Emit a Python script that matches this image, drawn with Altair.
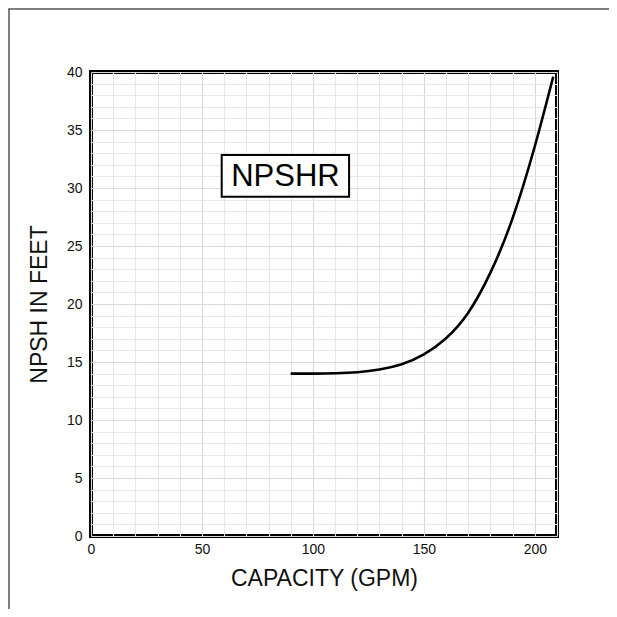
import altair as alt
import pandas as pd

# Curve data (capacity GPM, NPSH in feet)
capacity = [90, 100, 110, 120, 130, 140, 150, 160, 170, 180, 190, 200, 208.3]
npsh = [14.0, 14.0, 14.03, 14.12, 14.35, 14.8, 15.65, 17.05, 19.25, 22.7, 27.4, 33.6, 39.6]

x_grid = list(range(0, 211, 10))
y_grid = list(range(0, 41, 1))

label_text = ["NPSHR"]
label_x = [87.6]
label_y = [31.05]
box_x1, box_x2 = [58.9], [116.3]
box_y1, box_y2 = [32.84], [29.25]

df = pd.DataFrame({"capacity": capacity, "npsh": npsh})
lab = pd.DataFrame({"t": label_text, "capacity": label_x, "npsh": label_y,
                    "x1": box_x1, "x2": box_x2, "y1": box_y1, "y2": box_y2})

FONT = "Liberation Sans"

xscale = alt.Scale(domain=[0, 210], nice=False, zero=False)
yscale = alt.Scale(domain=[0, 40], nice=False, zero=False)

xaxis = alt.Axis(
    values=x_grid, title="CAPACITY (GPM)",
    labelExpr="datum.value % 50 === 0 ? datum.label : ''",
    labelOverlap=False, labelFlush=False, ticks=False, domain=False,
    grid=True,
    gridColor={"condition": {"test": "datum.value % 50 === 0", "value": "#d9d9d9"}, "value": "#e6e6e6"},
    gridWidth=1.1,
    labelFont=FONT, labelFontSize=14, labelColor="#111", labelPadding=6,
    titleFont=FONT, titleFontSize=23, titleFontWeight="normal", titleColor="#111", titlePadding=11,
)
yaxis = alt.Axis(
    values=y_grid, title="NPSH IN FEET",
    labelExpr="datum.value % 5 === 0 ? datum.label : ''",
    labelOverlap=False, labelFlush=False, ticks=False, domain=False,
    grid=True,
    gridColor={"condition": {"test": "datum.value % 5 === 0", "value": "#d9d9d9"}, "value": "#e6e6e6"},
    gridWidth=1.1,
    labelFont=FONT, labelFontSize=14, labelColor="#111", labelPadding=9,
    titleFont=FONT, titleFontSize=23, titleFontWeight="normal", titleColor="#111", titlePadding=15,
)

X = alt.X("capacity:Q", scale=xscale, axis=xaxis)
Y = alt.Y("npsh:Q", scale=yscale, axis=yaxis)

line = alt.Chart(df).mark_line(color="black", strokeWidth=2.6, interpolate="natural").encode(x=X, y=Y)

box = alt.Chart(lab).mark_rect(fill="white", stroke="black", strokeWidth=2).encode(
    x=alt.X("x1:Q", scale=xscale, axis=xaxis), x2="x2:Q",
    y=alt.Y("y1:Q", scale=yscale, axis=yaxis), y2="y2:Q",
)
txt = alt.Chart(lab).mark_text(font=FONT, fontSize=31, color="black", baseline="middle", align="center", dy=1).encode(
    x=X, y=Y, text="t:N",
)

frame_df = pd.DataFrame({"a": [0]})
frame_left = alt.Chart(frame_df).mark_rule(color="#555", strokeWidth=1.5).encode(
    x=alt.value(-82), y=alt.value(-63), y2=alt.value(560),
)
frame_top = alt.Chart(frame_df).mark_rule(color="#555", strokeWidth=1.5).encode(
    x=alt.value(-82.7), x2=alt.value(522), y=alt.value(-63),
)

chart = alt.layer(line, box, txt, frame_left, frame_top).properties(
    width=466, height=464,
    background="white",
    autosize=alt.AutoSizeParams(type="none"),
    padding={"left": 83, "top": 64, "right": 52, "bottom": 73},
).configure_view(stroke="black", strokeWidth=4)

chart.save("out.html", embed_options={"renderer": "svg", "actions": False})
